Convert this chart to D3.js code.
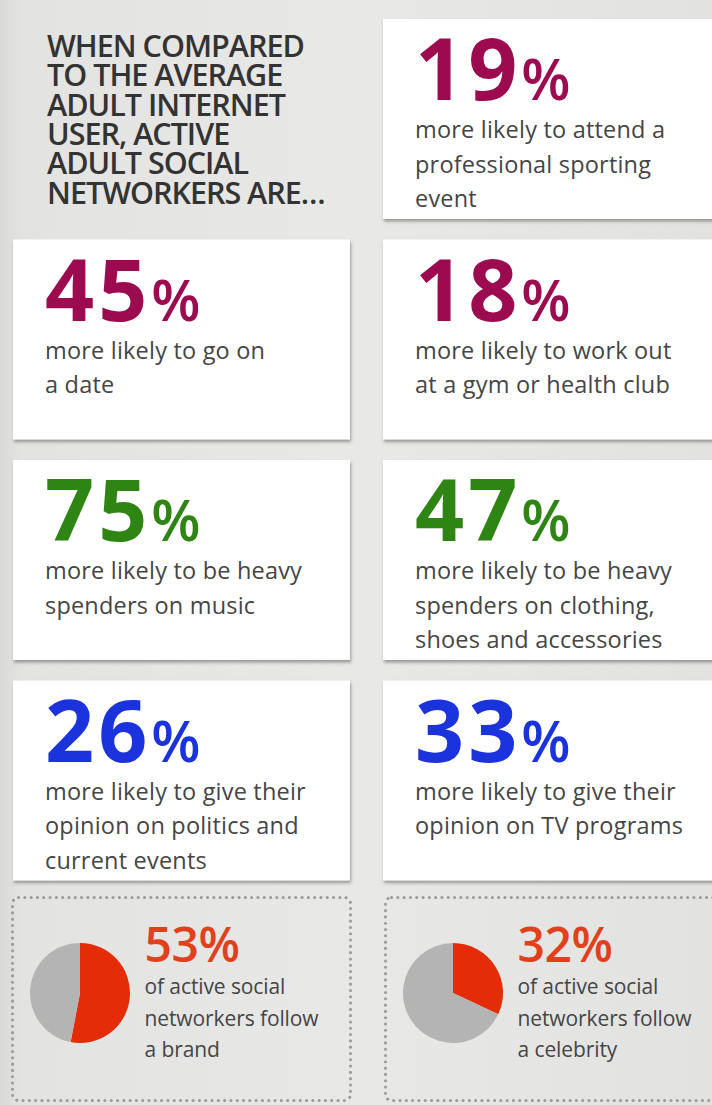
<!DOCTYPE html>
<html>
<head>
<meta charset="utf-8">
<script src="https://cdn.jsdelivr.net/npm/d3@7/dist/d3.min.js"></script>
<style>
  html, body { margin: 0; padding: 0; background: #e4e4e2; }
  svg { display: block; }
</style>
</head>
<body>
<svg id="chart" width="712" height="1105"></svg>
<script>
// ---- data ----
const headline = ["WHEN COMPARED", "TO THE AVERAGE", "ADULT INTERNET", "USER, ACTIVE", "ADULT SOCIAL", "NETWORKERS ARE…"];

const statValues = [19, 45, 18, 75, 47, 26, 33];
const statLabels = [
  ["more likely to attend a", "professional sporting", "event"],
  ["more likely to go on", "a date"],
  ["more likely to work out", "at a gym or health club"],
  ["more likely to be heavy", "spenders on music"],
  ["more likely to be heavy", "spenders on clothing,", "shoes and accessories"],
  ["more likely to give their", "opinion on politics and", "current events"],
  ["more likely to give their", "opinion on TV programs"]
];
const statGroups = ["maroon", "maroon", "maroon", "green", "green", "blue", "blue"];
// grid cell (column, row) of each stat card; cell (0,0) holds the headline
const statCells = [[1, 0], [0, 1], [1, 1], [0, 2], [1, 2], [0, 3], [1, 3]];

const shareValues = [53, 32];
const shareLabels = [
  ["of active social", "networkers follow", "a brand"],
  ["of active social", "networkers follow", "a celebrity"]
];

// ---- styling ----
const groupColor = d3.scaleOrdinal()
  .domain(["maroon", "green", "blue"])
  .range(["#9c0a4f", "#2f8514", "#1b33dc"]);
const pieColor = ["#e42c06", "#b4b4b4"];
const shareTextColor = "#e0401c";
const textColor = "#454545";
const fontFamily = "'Open Sans', 'Noto Sans', sans-serif";

const W = 712, H = 1105;
const svg = d3.select("#chart");
const defs = svg.append("defs");

const bg = defs.append("linearGradient").attr("id", "bg")
  .attr("x1", 0).attr("x2", 1).attr("y1", 0).attr("y2", 0);
bg.append("stop").attr("offset", "0%").attr("stop-color", "#d9d9d7");
bg.append("stop").attr("offset", "3%").attr("stop-color", "#e3e3e1");
bg.append("stop").attr("offset", "50%").attr("stop-color", "#e8e8e6");
bg.append("stop").attr("offset", "100%").attr("stop-color", "#e2e2e0");

const shadow = defs.append("filter").attr("id", "shadow")
  .attr("x", "-5%").attr("y", "-5%").attr("width", "115%").attr("height", "115%");
shadow.append("feDropShadow")
  .attr("dx", 1).attr("dy", 2.5).attr("stdDeviation", 1.6)
  .attr("flood-color", "#555").attr("flood-opacity", 0.55);

svg.append("rect").attr("width", W).attr("height", H).attr("fill", "url(#bg)");

// ---- grid ----
const colX = d3.scaleOrdinal().domain([0, 1]).range([13, 383]);
const colW = d3.scaleOrdinal().domain([0, 1]).range([337, 340]);
const rowY = d3.scaleBand().domain([0, 1, 2, 3]).range([19, 880.5]).paddingInner(0.093);
const cardH = rowY.bandwidth();

// headline
const head = svg.append("text")
  .attr("x", 47).attr("y", 57)
  .attr("font-family", fontFamily)
  .attr("font-weight", 600)
  .attr("font-size", 30.5)
  .attr("letter-spacing", -1)
  .attr("fill", "#333");
head.selectAll("tspan").data(headline).join("tspan")
  .attr("x", 47)
  .attr("dy", (d, i) => i === 0 ? 0 : 29.3)
  .text(d => d);

// stat cards
const stats = statValues.map((v, i) => ({
  value: v, lines: statLabels[i], group: statGroups[i],
  col: statCells[i][0], row: statCells[i][1]
}));

const card = svg.selectAll("g.card").data(stats).join("g")
  .attr("class", "card")
  .attr("transform", d => `translate(${colX(d.col)},${rowY(d.row)})`);

card.append("rect")
  .attr("width", d => colW(d.col))
  .attr("height", cardH)
  .attr("fill", "#fff")
  .attr("filter", "url(#shadow)");

const num = card.append("text")
  .attr("x", 32).attr("y", 81)
  .attr("font-family", fontFamily)
  .attr("fill", d => groupColor(d.group));
num.append("tspan")
  .attr("font-size", 86).attr("font-weight", 700).attr("letter-spacing", 4)
  .text(d => d.value);
num.append("tspan")
  .attr("font-size", 57).attr("font-weight", 600).attr("dx", 0)
  .text("%");

card.append("text")
  .attr("font-family", fontFamily)
  .attr("font-size", 23.5)
  .attr("letter-spacing", 0.2)
  .attr("fill", textColor)
  .selectAll("tspan").data(d => d.lines).join("tspan")
  .attr("x", 32)
  .attr("y", (d, i) => 119 + i * 34.5)
  .text(d => d);

// share boxes with pies
const shares = shareValues.map((v, i) => ({ value: v, lines: shareLabels[i], col: i }));
const boxX = d3.scaleOrdinal().domain([0, 1]).range([12.5, 385.5]);
const boxW = d3.scaleOrdinal().domain([0, 1]).range([338, 340]);
const boxY = 897.5, boxH = 203;

const pie = d3.pie().sort(null).value(d => d);
const arc = d3.arc().innerRadius(0).outerRadius(50);

const box = svg.selectAll("g.share").data(shares).join("g")
  .attr("class", "share")
  .attr("transform", d => `translate(${boxX(d.col)},${boxY})`);

box.append("rect")
  .attr("width", d => boxW(d.col)).attr("height", boxH)
  .attr("rx", 6)
  .attr("fill", "none")
  .attr("stroke", "#9a9a9a")
  .attr("stroke-width", 3)
  .attr("stroke-linecap", "round")
  .attr("stroke-dasharray", "0.1 6.2");

box.append("g")
  .attr("transform", "translate(67.5,95.5)")
  .selectAll("path")
  .data(d => pie([d.value, 100 - d.value]))
  .join("path")
  .attr("d", arc)
  .attr("fill", (d, i) => pieColor[i]);

box.append("text")
  .attr("x", 132).attr("y", 64.5)
  .attr("font-family", fontFamily)
  .attr("font-size", 48).attr("font-weight", 600)
  .attr("letter-spacing", -0.5)
  .attr("fill", shareTextColor)
  .text(d => d.value + "%");

box.append("text")
  .attr("font-family", fontFamily)
  .attr("font-size", 21)
  .attr("letter-spacing", -0.1)
  .attr("fill", textColor)
  .selectAll("tspan").data(d => d.lines).join("tspan")
  .attr("x", 132)
  .attr("y", (d, i) => 96.5 + i * 31.5)
  .text(d => d);
</script>
</body>
</html>
